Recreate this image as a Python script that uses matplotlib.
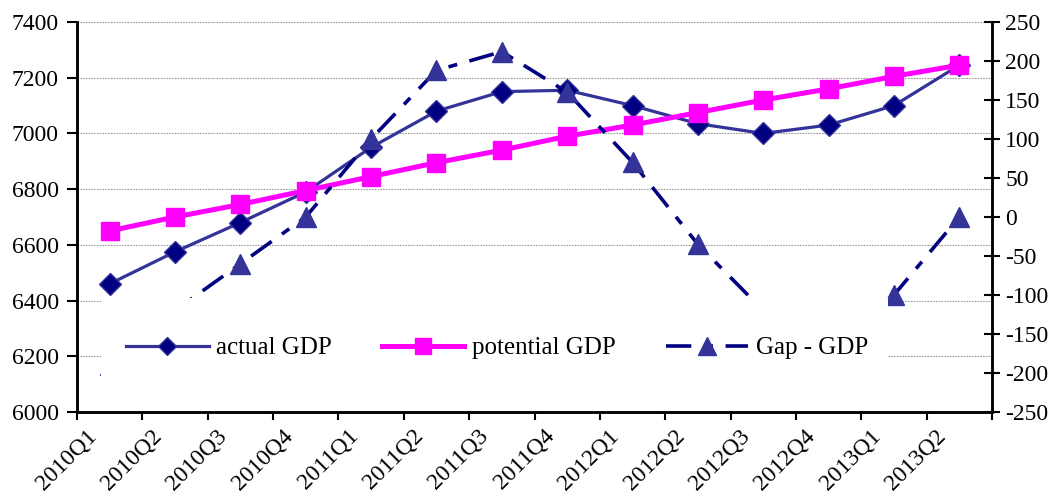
import matplotlib
matplotlib.use("Agg")
import matplotlib.pyplot as plt
import matplotlib.transforms as mtransforms
from matplotlib.patches import Rectangle
import numpy as np

plt.rcParams['font.family'] = ['Liberation Serif', 'DejaVu Serif']
plt.rcParams['axes.unicode_minus'] = False

quarters = ['2010Q1', '2010Q2', '2010Q3', '2010Q4',
            '2011Q1', '2011Q2', '2011Q3', '2011Q4',
            '2012Q1', '2012Q2', '2012Q3', '2012Q4',
            '2013Q1', '2013Q2']
actual_gdp = [6460, 6575, 6680, 6790, 6950, 7080, 7150,
              7155, 7100, 7035, 7000, 7030, 7100, 7245]
potential_gdp = [6650, 6700, 6745, 6795, 6845, 6895, 6940,
                 6990, 7030, 7075, 7120, 7160, 7205, 7245]
gap_gdp = [-190, -120, -60, 0, 100, 188, 212,
           160, 70, -35, -120, -130, -100, 0]

left_ticks = [6000, 6200, 6400, 6600, 6800, 7000, 7200, 7400]
right_ticks = [-250, -200, -150, -100, -50, 0, 50, 100, 150, 200, 250]

fs = 17
x = np.arange(len(quarters)) + 0.5

fig = plt.figure(figsize=(10.53, 5.0), dpi=100)
ax = fig.add_axes([77 / 1053, 88 / 500, 915 / 1053, 390 / 500])
ax2 = ax.twinx()

# left axis: actual and potential
ax.plot(x, actual_gdp, color='#333399', lw=2.3, marker='D', ms=11,
        mfc='#000080', mec='#333399', mew=1, label='actual GDP', zorder=3)
ax.plot(x, potential_gdp, color='#FF00FF', lw=3.6, marker='s', ms=13,
        mfc='#FF00FF', mec='#FF00FF', label='potential GDP', zorder=4)

# right axis: output gap
gap_line, = ax2.plot(x, gap_gdp, color='#000080', lw=2.6, marker='^', ms=15,
                     mfc='#333399', mec='#333399', label='Gap - GDP', zorder=3)
gap_line.set_dashes([7, 3.5, 2.5, 3.5])

ax.set_xlim(0, len(quarters))
ax.set_ylim(6000, 7400)
ax2.set_ylim(-250, 250)

ax.set_yticks(left_ticks)
ax.set_yticklabels([str(v) for v in left_ticks], fontsize=fs)
ax2.set_yticks(right_ticks)
ax2.set_yticklabels([str(v) for v in right_ticks], fontsize=fs)

ax.yaxis.grid(True, color='#999999', ls=(0, (1.5, 1)), lw=0.8)
ax.set_axisbelow(True)

# category ticks at boundaries, labels at centres
ax.set_xticks(np.arange(len(quarters) + 1))
ax.set_xticklabels([])
ax.set_xticks(x, minor=True)
ax.set_xticklabels(quarters, minor=True, fontsize=fs, rotation=45,
                   ha='right', va='center', rotation_mode='anchor')
ax.tick_params(axis='x', which='minor', length=0, pad=15)
ax.tick_params(axis='x', which='major', direction='out', length=6, width=1.5)
offset = mtransforms.ScaledTranslation(-12 / 72, 0, fig.dpi_scale_trans)
for lbl in ax.get_xticklabels(minor=True):
    lbl.set_transform(lbl.get_transform() + offset)

ax.tick_params(axis='y', direction='out', length=7, width=1.5, pad=6)
ax2.tick_params(axis='y', direction='inout', length=11, width=1.5, pad=4)

for a in (ax, ax2):
    a.spines['top'].set_visible(False)
    for s in ('left', 'right', 'bottom'):
        a.spines[s].set_linewidth(1.8)

# legend sits on a white panel over the lower part of the plot
ax2.add_patch(Rectangle((24 / 915, 10 / 390), 787 / 915, 104 / 390,
                        transform=ax2.transAxes, facecolor='white',
                        edgecolor='none', zorder=4))
handles = ax.get_lines()[:2] + [gap_line]
leg = ax2.legend(handles, [h.get_label() for h in handles], loc='center',
                 bbox_to_anchor=(420 / 915, 64 / 390), ncol=3, frameon=False,
                 fontsize=18, handlelength=3.3, handletextpad=0.3,
                 columnspacing=2.0, markerscale=0.85)
leg.set_zorder(5)

fig.savefig('out.png', dpi=100)
